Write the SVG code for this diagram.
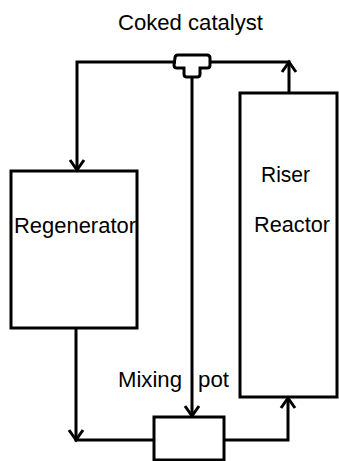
<svg xmlns="http://www.w3.org/2000/svg" width="339" height="461" viewBox="0 0 339 461">
<defs>
<style>
.box{fill:none;stroke:#000;stroke-width:3}
.ln{fill:none;stroke:#000;stroke-width:3;stroke-linejoin:miter}
.ah{fill:none;stroke:#000;stroke-width:3;stroke-linecap:butt;stroke-linejoin:miter}
.t{font-family:"Liberation Sans",Arial,sans-serif;font-size:22px;fill:#000}
</style>
</defs>
<rect width="339" height="461" fill="#fff"/>
<g id="connectors">
<path class="ln" d="M176,62 H77 V170"/>
<path class="ah" d="M70,160 L77,170 L84,160"/>
<path class="ln" d="M209,62 H289 V93"/>
<path class="ah" d="M282,72 L289,62 L296,72"/>
<path class="ln" d="M192,77 V416"/>
<path class="ah" d="M185,406 L192,416 L199,406"/>
<path class="ln" d="M76,328 V440 H154"/>
<path class="ah" d="M69,430 L76,440 L83,430"/>
<path class="ln" d="M224,440 H288 V398"/>
<path class="ah" d="M281,408 L288,398 L295,408"/>
</g>
<g id="tee">
<path class="box" fill="#fff" d="M175,58 q0,-3 3,-3 h29 q3,0 3,3 v7 q0,3 -3,3 h-7 v6 q0,3 -3,3 h-10 q-3,0 -3,-3 v-6 h-7 q-3,0 -3,-3 z"/>
</g>
<g id="title"><text class="t" x="118" y="30" textLength="145" lengthAdjust="spacingAndGlyphs">Coked catalyst</text></g>
<g id="regenerator">
<rect class="box" x="11" y="171" width="126" height="157"/>
<text class="t" x="14" y="233" textLength="122" lengthAdjust="spacingAndGlyphs">Regenerator</text>
</g>
<g id="riser">
<rect class="box" x="240" y="93" width="97" height="304"/>
<text class="t" x="261" y="182" textLength="49" lengthAdjust="spacingAndGlyphs">Riser</text>
<text class="t" x="254" y="232" textLength="76" lengthAdjust="spacingAndGlyphs">Reactor</text>
</g>
<g id="mixing-pot">
<rect class="box" x="154" y="417" width="70" height="43"/>
<text class="t" x="118" y="387" textLength="64" lengthAdjust="spacingAndGlyphs">Mixing</text>
<text class="t" x="198" y="387" textLength="31" lengthAdjust="spacingAndGlyphs">pot</text>
</g>
</svg>
